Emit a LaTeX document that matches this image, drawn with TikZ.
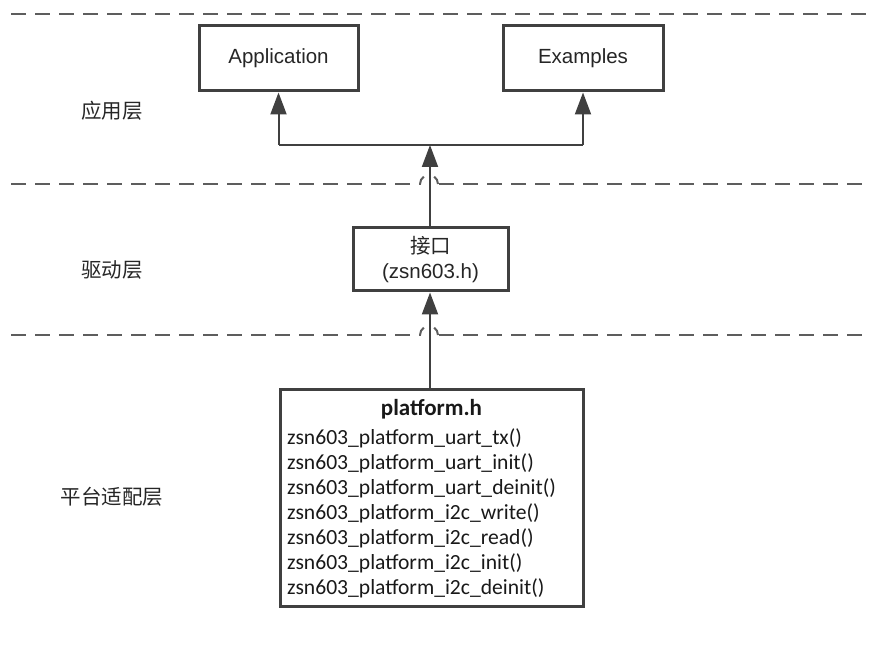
\documentclass[tikz,border=0pt]{standalone}
\usepackage{fontspec}
\setmainfont{Liberation Sans}
\newfontfamily\cjkfont{Noto Sans CJK SC}
\newfontfamily\calfont{Carlito}
\usetikzlibrary{arrows.meta}
\definecolor{lc}{HTML}{404040}
\begin{document}
\begin{tikzpicture}[x=1pt,y=-1pt,
  box/.style={draw=lc, line width=3pt, fill=white, inner sep=0pt, align=center},
  conn/.style={draw=lc, line width=2pt, -{Triangle[length=22pt,width=16pt]}},
  seg/.style={draw=lc, line width=2pt},
  dashline/.style={draw=lc!85, line width=2pt, dash pattern=on 15pt off 9pt},
  hop/.style={draw=lc!85, line width=2pt},
  layer/.style={font=\cjkfont\fontsize{20.5}{24}\selectfont, text=black!85},
  txt/.style={font=\fontsize{20.5}{25}\selectfont, text=black!85}
]
\useasboundingbox (0,0) rectangle (871,655);
% dashed layer separators with hops
\draw[dashline] (11,14) -- (866,14);
\foreach \yy in {184,335} {
  \draw[dashline] (11,\yy) -- (421,\yy);
  \draw[hop] (420,\yy) arc[start angle=180,end angle=235,radius=9];
  \draw[hop] (438,\yy) arc[start angle=360,end angle=305,radius=9];
  \draw[dashline] (439,\yy) -- (866,\yy);
}
% boxes
\node[box, txt, minimum width=159, minimum height=65] (app) at (278.5,58.5) {Application};
\node[box, txt, minimum width=160, minimum height=65] (ex) at (583,58.5) {Examples};
\node[box, txt, minimum width=155, minimum height=63] (ifc) at (430.5,259.5) {{\cjkfont 接口}\\(zsn603.h)};
\node[box, minimum width=303, minimum height=217] (plat) at (431.5,497.5) {};
\node[font=\calfont\bfseries\fontsize{23}{26}\selectfont, text=black!90] (ptitle) at (431.5,409) {platform.h};
\node[font=\calfont\fontsize{21.6}{25}\selectfont, text=black!90, align=left, anchor=north west, inner sep=0pt] (plist) at (287,428) {%
zsn603\_platform\_uart\_tx()\\
zsn603\_platform\_uart\_init()\\
zsn603\_platform\_uart\_deinit()\\
zsn603\_platform\_i2c\_write()\\
zsn603\_platform\_i2c\_read()\\
zsn603\_platform\_i2c\_init()\\
zsn603\_platform\_i2c\_deinit()};
% layer labels
\node[layer] (l1) at (112,111) {应用层};
\node[layer] (l2) at (112,270) {驱动层};
\node[layer] (l3) at (112,497) {平台适配层};
% connectors
\coordinate (j) at (430,145);
\draw[conn] (plat.north -| j) -- (ifc.south -| j);
\draw[conn] (ifc.north -| j) -- (j);
\draw[seg] (app.south |- j) -- (ex.south |- j);
\draw[conn] (app.south |- j) -- (app.south);
\draw[conn] (ex.south |- j) -- (ex.south);
\end{tikzpicture}
\end{document}
